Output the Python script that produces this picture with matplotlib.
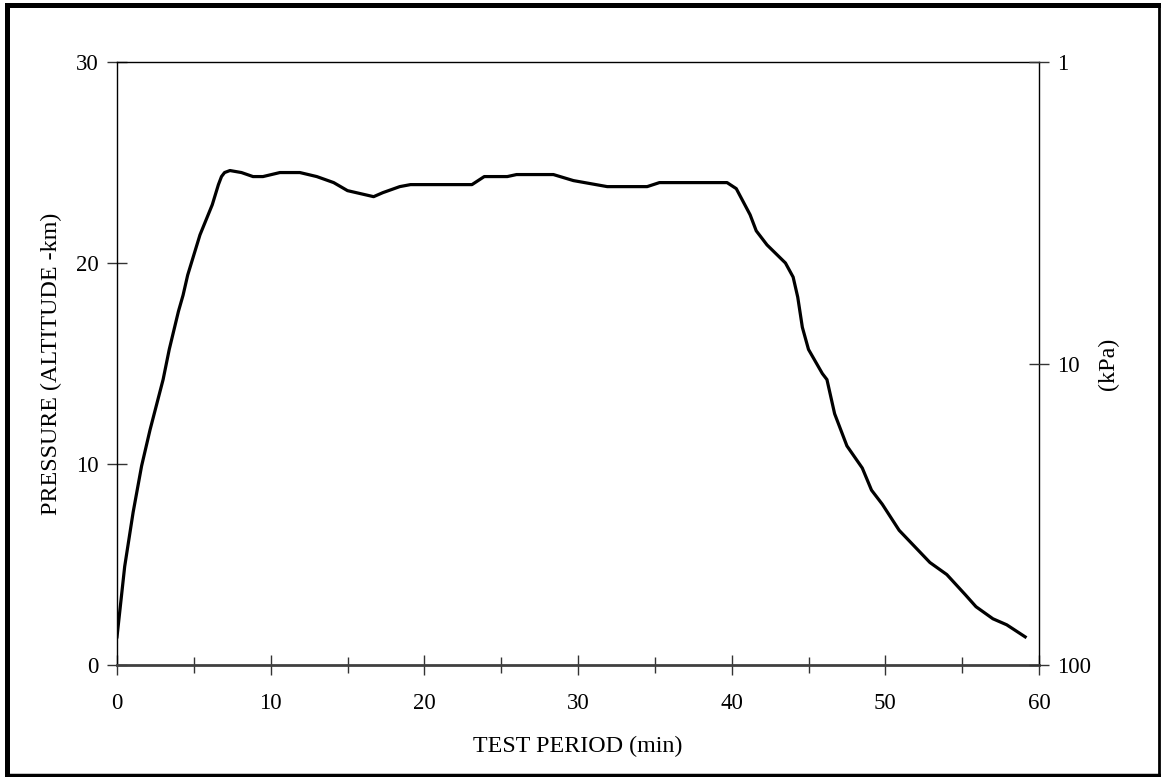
import numpy as np
import matplotlib
matplotlib.use('Agg')
import matplotlib.pyplot as plt
from matplotlib.lines import Line2D

# test period (min) vs pressure altitude (km)
minutes = [0, 0.5, 1.05, 1.6, 2.15, 3.0, 3.4, 4.0, 4.3, 4.6, 5.4, 6.2, 6.6, 6.8,
           7.0, 7.35, 8.1, 8.85, 9.5, 10.6, 11.9, 13.0, 14.1, 15.0, 16.7, 17.3, 18.4,
           19.1, 21.0, 23.1, 23.9, 25.4, 26.0, 28.4, 29.7, 31.9, 34.5, 35.3, 38.6,
           39.0, 39.7, 40.3, 41.2, 41.6, 42.3, 43.5, 44.0, 44.3, 44.6, 45.0, 45.9,
           46.2, 46.7, 47.5, 48.5, 49.1, 49.8, 50.9, 51.9, 52.9, 54.0, 55.2, 55.9,
           57.0, 57.9, 59.1]
altitude = [1.4, 4.9, 7.6, 9.9, 11.7, 14.2, 15.7, 17.6, 18.4, 19.4, 21.4, 22.9, 23.9, 24.3,
            24.5, 24.6, 24.5, 24.3, 24.3, 24.5, 24.5, 24.3, 24.0, 23.6, 23.3, 23.5, 23.8,
            23.9, 23.9, 23.9, 24.3, 24.3, 24.4, 24.4, 24.1, 23.8, 23.8, 24.0, 24.0,
            24.0, 24.0, 23.7, 22.4, 21.6, 20.9, 20.0, 19.3, 18.3, 16.8, 15.7, 14.5,
            14.2, 12.5, 10.9, 9.8, 8.7, 8.0, 6.7, 5.9, 5.1, 4.5, 3.5, 2.9,
            2.3, 2.0, 1.4]

kpa_ticks = [1, 10, 100]

plt.rcParams['font.family'] = ['Liberation Serif', 'DejaVu Serif']
fs = 16.5
lfs = 17.3

fig = plt.figure(figsize=(11.61, 7.77), dpi=100)
ax = fig.add_axes([117/1161, 1-665/777, (1039-117)/1161, (665-62)/777])

ax.plot(minutes, altitude, color='black', lw=2.3, solid_joinstyle='round')

ax.set_xlim(0, 60)
ax.set_ylim(0, 30)
ax.set_xticks(np.arange(0, 61, 10))
ax.set_xticks(np.arange(0, 61, 5), minor=True)
ax.set_yticks([0, 10, 20, 30])
ax.tick_params(axis='both', which='both', direction='inout', length=14, width=1,
               colors='#333333', labelcolor='black', labelsize=fs)
ax.tick_params(axis='x', which='minor', length=12)
ax.tick_params(axis='x', pad=13)
ax.tick_params(axis='y', pad=6)

for s in ['left', 'top', 'right']:
    ax.spines[s].set_linewidth(1)
    ax.spines[s].set_color('black')
ax.spines['bottom'].set_linewidth(2)
ax.spines['bottom'].set_color('#404040')

ax.set_xlabel('TEST PERIOD (min)', fontsize=lfs, labelpad=16)
ax.set_ylabel('PRESSURE (ALTITUDE -km)', fontsize=lfs, labelpad=10)

ax2 = ax.twinx()
ax2.set_yscale('log')
ax2.set_ylim(100, 1)
ax2.set_yticks(kpa_ticks)
ax2.set_yticklabels([str(v) for v in kpa_ticks])
ax2.yaxis.set_minor_locator(matplotlib.ticker.NullLocator())
ax2.tick_params(axis='y', direction='inout', length=14, width=1,
                colors='#333333', labelcolor='black', labelsize=fs, pad=6)
ax2.set_ylabel('(kPa)', fontsize=lfs, labelpad=5)
for s in ax2.spines.values():
    s.set_visible(False)

# frame around the whole picture
W, H = 1161, 777
def edge(x0, y0, x1, y1, lw):
    fig.add_artist(Line2D([x0/W, x1/W], [1-y0/H, 1-y1/H], color='black',
                          lw=lw, transform=fig.transFigure, solid_capstyle='projecting'))
edge(6.5, 4.5, 1159, 4.5, 3.6)
edge(6.5, 4.5, 6.5, 775, 3.6)
edge(1159, 4.5, 1159, 775, 2.0)
edge(6.5, 775, 1159, 775, 2.5)

fig.savefig('out.png', dpi=100)
